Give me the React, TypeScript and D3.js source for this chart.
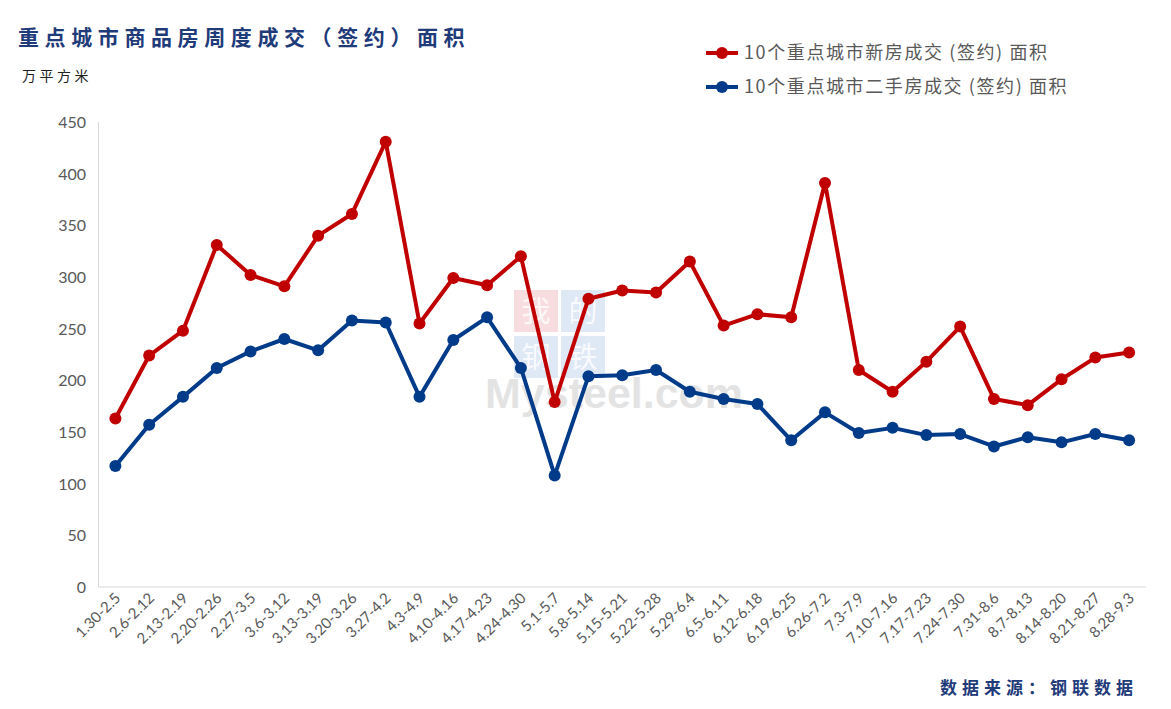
import { scaleBand, scaleLinear, line } from 'd3';

const weeks = [
  '1.30-2.5', '2.6-2.12', '2.13-2.19', '2.20-2.26', '2.27-3.5', '3.6-3.12', '3.13-3.19', '3.20-3.26',
  '3.27-4.2', '4.3-4.9', '4.10-4.16', '4.17-4.23', '4.24-4.30', '5.1-5.7', '5.8-5.14', '5.15-5.21',
  '5.22-5.28', '5.29-6.4', '6.5-6.11', '6.12-6.18', '6.19-6.25', '6.26-7.2', '7.3-7.9', '7.10-7.16',
  '7.17-7.23', '7.24-7.30', '7.31-8.6', '8.7-8.13', '8.14-8.20', '8.21-8.27', '8.28-9.3',
];

const newHomes = [
  163, 224, 248, 331, 302, 291, 340, 361, 431, 255, 299, 292, 320, 179, 279, 287,
  285, 315, 253, 264, 261, 391, 210, 189, 218, 252, 182, 176, 201, 222, 227,
];

const resale = [
  117, 157, 184, 212, 228, 240, 229, 258, 256, 184, 239, 261, 212, 108, 204, 205,
  210, 189, 182, 177, 142, 169, 149, 154, 147, 148, 136, 145, 140, 148, 142,
];

const yTicks = [0, 50, 100, 150, 200, 250, 300, 350, 400, 450];

const seriesNames = ['10个重点城市新房成交 (签约) 面积', '10个重点城市二手房成交 (签约) 面积'];
const colors = ['#C00000', '#003B8A'];

const W = 1171;
const H = 709;
const left = 98.5;
const right = 1146;
const top = 122;
const bottom = 587;

const numFont = 'Lato, "Noto Sans", sans-serif';
const cjkFont = '"Noto Sans CJK SC", sans-serif';

export default function App() {
  const x = scaleBand().domain(weeks).range([left, right]).padding(0);
  const y = scaleLinear().domain([0, 450]).range([bottom, top]);
  const cx = (d: string) => (x(d) as number) + x.bandwidth() / 2;

  const path = line<number>()
    .x((_, i) => cx(weeks[i]))
    .y((v) => y(v));

  const series = [newHomes, resale];

  // watermark tiles: [char, x, y, fill]
  const tiles: [string, number, number, string][] = [
    ['我', 514, 290, '#F4C7CC'],
    ['的', 561, 290, '#C9D9EE'],
    ['钢', 514, 336, '#C9D9EE'],
    ['铁', 561, 336, '#C9D9EE'],
  ];

  return (
    <svg width={W} height={H} style={{ position: 'absolute', left: 0, top: 0, background: '#fff' }}>
      {/* watermark */}
      <g>
        {tiles.map(([c, tx, ty, f]) => (
          <g key={c}>
            <rect x={tx} y={ty} width={44} height={42} fill={f} opacity={0.6} />
            <text x={tx + 22} y={ty + 32} textAnchor="middle" fontSize={29} fontFamily={cjkFont} fill="#fff" opacity={0.8}>
              {c}
            </text>
          </g>
        ))}
        <text x={485} y={408} fontSize={43} fontWeight="bold" fontFamily='"Liberation Sans", Arial, sans-serif' fill="#DDDDDD" opacity={0.8}>
          Mysteel.com
        </text>
      </g>

      {/* title */}
      <text x={18} y={45} fontSize={21} fontWeight="bold" fontFamily={cjkFont} fill="#1F3B7A" letterSpacing={5.6}>
        重点城市商品房周度成交（签约）面积
      </text>
      <text x={22} y={81} fontSize={14} fontFamily={cjkFont} fill="#222" letterSpacing={3.5}>
        万平方米
      </text>

      {/* legend */}
      {seriesNames.map((name, i) => (
        <g key={name} transform={`translate(0, ${53 + i * 34})`}>
          <line x1={706} x2={738} y1={0} y2={0} stroke={colors[i]} strokeWidth={4} />
          <circle cx={722} cy={0} r={6} fill={colors[i]} />
          <text x={744} y={6} fontSize={18} fontFamily={cjkFont} fill="#595959" letterSpacing={1.6}>
            {name}
          </text>
        </g>
      ))}

      {/* axes */}
      <line x1={left} x2={left} y1={top} y2={bottom} stroke="#D9D9D9" strokeWidth={1} />
      <line x1={left} x2={right} y1={bottom} y2={bottom} stroke="#D9D9D9" strokeWidth={1} />

      {yTicks.map((t) => (
        <text key={t} x={86} y={y(t) + 6} textAnchor="end" fontSize={16} fontFamily={numFont} fill="#595959">
          {t}
        </text>
      ))}

      {weeks.map((w) => (
        <text
          key={w}
          transform={`translate(${cx(w) + 6}, ${599}) rotate(-45)`}
          textAnchor="end"
          fontSize={15}
          fontFamily={numFont}
          fill="#595959"
        >
          {w}
        </text>
      ))}

      {/* series */}
      {series.map((vals, i) => (
        <g key={i}>
          <path d={path(vals) ?? ''} fill="none" stroke={colors[i]} strokeWidth={4} strokeLinejoin="round" />
          {vals.map((v, j) => (
            <circle key={j} cx={cx(weeks[j])} cy={y(v)} r={6} fill={colors[i]} />
          ))}
        </g>
      ))}

      {/* source */}
      <text x={1138} y={694} textAnchor="end" fontSize={17} fontWeight="bold" fontFamily={cjkFont} fill="#1F3B7A" letterSpacing={5}>
        数据来源：钢联数据
      </text>
    </svg>
  );
}
